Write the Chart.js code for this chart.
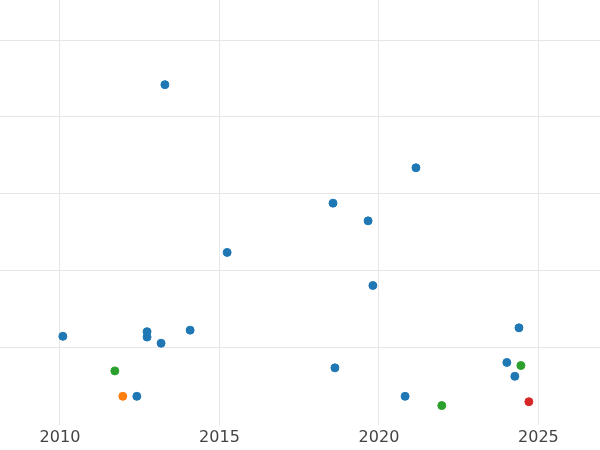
<!DOCTYPE html>
<html><head><script src="https://cdn.jsdelivr.net/npm/chart.js@4"></script>
<style>body{margin:0;overflow:hidden}#w{width:610px;height:455px;margin-left:-5px;margin-top:-5px}</style></head>
<body><div id="w"><canvas id="c"></canvas></div>
<script>
const blueX=[2013.29,2021.16,2018.56,2019.66,2015.24,2019.81,2010.09,2012.73,2012.73,2013.17,2014.08,2024.39,2018.62,2024.01,2024.26,2012.41,2020.82];
const blueY=[4.42,3.34,2.88,2.65,2.24,1.81,1.15,1.21,1.14,1.06,1.23,1.26,0.74,0.81,0.63,0.37,0.37];
const greenX=[2011.72,2021.97,2024.45];
const greenY=[0.70,0.25,0.77];
const orangeX=[2011.97];
const orangeY=[0.37];
const redX=[2024.70];
const redY=[0.30];
const pts=(xs,ys)=>xs.map((x,i)=>({x,y:ys[i]}));
const ds=(xs,ys,c)=>({data:pts(xs,ys),backgroundColor:c,borderColor:c,pointRadius:4,pointHoverRadius:4});
new Chart(document.getElementById('c'),{type:'scatter',
data:{datasets:[ds(blueX,blueY,'#1f77b4'),ds(greenX,greenY,'#2ca02c'),ds(orangeX,orangeY,'#ff7f0e'),ds(redX,redY,'#d62728')]},
options:{responsive:true,maintainAspectRatio:false,animation:false,layout:{padding:0},
plugins:{legend:{display:false},tooltip:{enabled:false}},
scales:{x:{min:2008.12,max:2026.93,afterBuildTicks:a=>{a.ticks=[2010,2015,2020,2025].map(v=>({value:v}))},
ticks:{color:'#444',font:{size:16,family:'DejaVu Sans'},callback:v=>String(v),maxRotation:0,autoSkip:false},
grid:{color:'#e6e6e6',drawTicks:false},border:{display:false}},
y:{min:0,max:5.52,afterBuildTicks:a=>{a.ticks=[1,2,3,4,5].map(v=>({value:v}))},ticks:{display:false},
grid:{color:'#e6e6e6',drawTicks:false},border:{display:false}}}}});
</script></body></html>
